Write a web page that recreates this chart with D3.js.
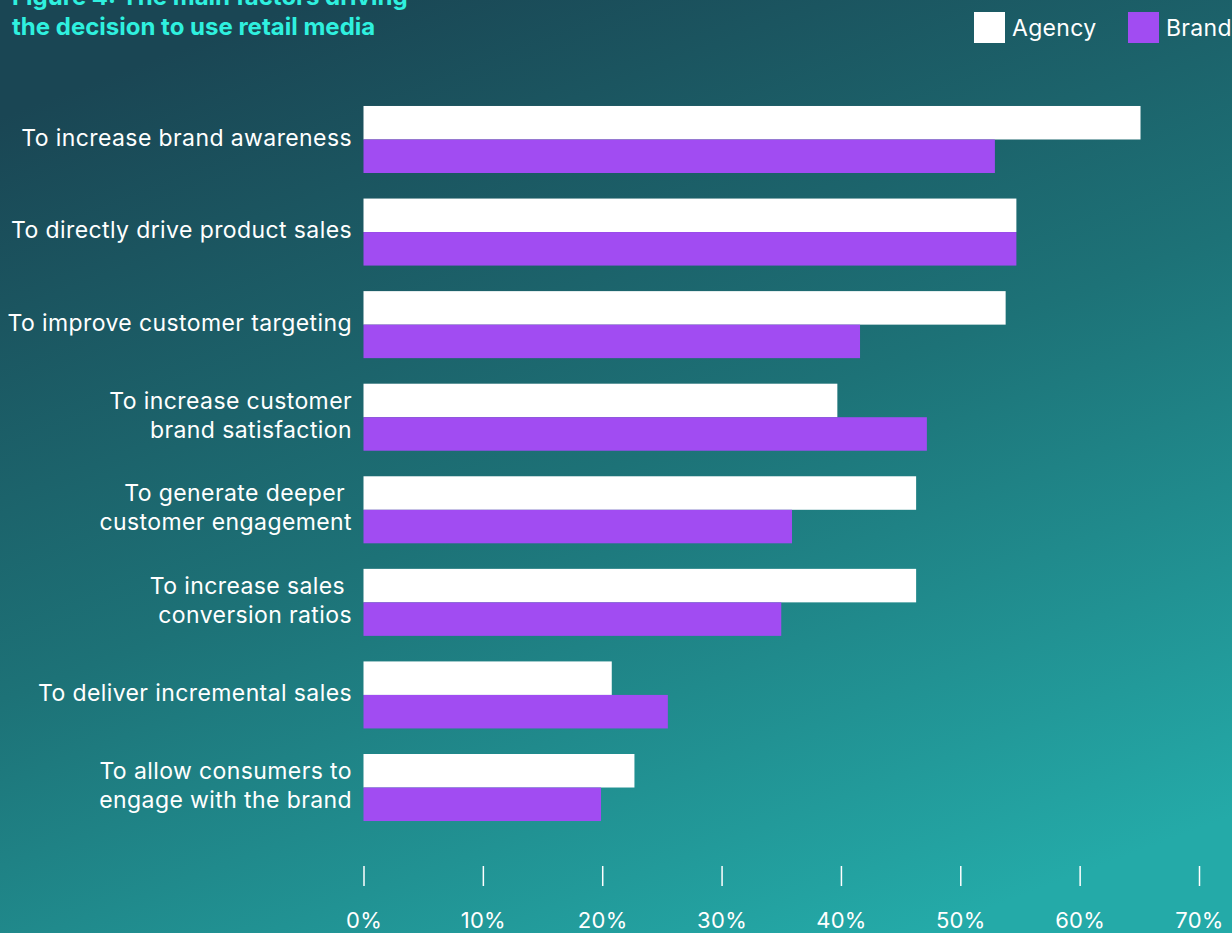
<!DOCTYPE html>
<html>
<head>
<meta charset="utf-8">
<script src="https://cdn.jsdelivr.net/npm/d3@7"></script>
<style>
  html, body { margin: 0; padding: 0; overflow: hidden; background: #1b4a58; }
  svg { display: block; font-family: Inter, "Noto Sans", sans-serif; }
  .cat-label { white-space: pre; }
</style>
</head>
<body>
<svg id="chart" width="1232" height="933"></svg>
<script>
// Survey answers: share of respondents choosing each factor
const categories = [
  ["To increase brand awareness"],
  ["To directly drive product sales"],
  ["To improve customer targeting"],
  ["To increase customer", "brand satisfaction"],
  ["To generate deeper ", "customer engagement"],
  ["To increase sales ", "conversion ratios"],
  ["To deliver incremental sales"],
  ["To allow consumers to", "engage with the brand"]
];
const seriesNames = ["Agency", "Brand"];
const agencyValues = [65.1, 54.7, 53.8, 39.7, 46.3, 46.3, 20.8, 22.7];
const brandValues  = [52.9, 54.7, 41.6, 47.2, 35.9, 35.0, 25.5, 19.9];
const tickValues = [0, 10, 20, 30, 40, 50, 60, 70];
const titleLines = ["Figure 4: The main factors driving", "the decision to use retail media"];

const W = 1232, H = 933;
const colors = { Agency: "#ffffff", Brand: "#a14cf2" };

const svg = d3.select("#chart");

// background gradient
const defs = svg.append("defs");
const grad = defs.append("linearGradient")
  .attr("id", "bg").attr("x1", "0.25").attr("y1", "0").attr("x2", "0.75").attr("y2", "1");
grad.append("stop").attr("offset", "0").attr("stop-color", "#1a4654");
grad.append("stop").attr("offset", "0.5").attr("stop-color", "#1d7277");
grad.append("stop").attr("offset", "1").attr("stop-color", "#24aaa8");
svg.append("rect").attr("width", W).attr("height", H).attr("fill", "url(#bg)");

const keys = categories.map((c, i) => i);
const rows = keys.map(i => ({ i, Agency: agencyValues[i], Brand: brandValues[i] }));

const x = d3.scaleLinear().domain([0, 70]).range([363.5, 1199]);
const y = d3.scaleBand().domain(keys).range([93.2, 833.8]).paddingInner(0.276).paddingOuter(0.138);
const ySub = d3.scaleBand().domain(seriesNames).range([0, y.bandwidth()]);

// bars
const groups = svg.append("g").selectAll("g").data(rows).join("g")
  .attr("transform", d => `translate(0,${y(d.i)})`);
groups.selectAll("rect")
  .data(d => seriesNames.map(k => ({ k, v: d[k] })))
  .join("rect")
  .attr("x", x(0))
  .attr("y", d => ySub(d.k))
  .attr("width", d => x(d.v) - x(0))
  .attr("height", ySub.bandwidth())
  .attr("fill", d => colors[d.k]);

// category labels
const lineH = 29;
svg.append("g").selectAll("text").data(categories).join("text")
  .attr("class", "cat-label")
  .attr("text-anchor", "end")
  .attr("fill", "#ffffff")
  .attr("font-size", 23)
  .attr("letter-spacing", 0.4)
  .each(function(lines, i) {
    const cy = y(i) + y.bandwidth() / 2 - 2;
    const t = d3.select(this);
    lines.forEach((ln, j) => {
      t.append("tspan")
        .attr("x", 352)
        .attr("y", cy + (j - (lines.length - 1) / 2) * lineH)
        .attr("dy", "0.35em")
        .text(ln);
    });
  });

// x axis: tick marks and labels, no domain line
const axis = svg.append("g")
  .attr("transform", "translate(0,866)")
  .call(d3.axisBottom(x).tickValues(tickValues).tickSize(20).tickPadding(26).tickFormat(d => d + "%"));
axis.select(".domain").remove();
axis.selectAll(".tick line").attr("stroke", "#ffffff").attr("stroke-width", 1.5);
axis.selectAll(".tick text")
  .attr("fill", "#ffffff")
  .attr("font-size", 22)
  .attr("letter-spacing", 0.3)
  .attr("font-family", "Inter, 'Noto Sans', sans-serif");

// title
svg.append("g").selectAll("text").data(titleLines).join("text")
  .attr("x", 12)
  .attr("y", (d, i) => 5 + i * 30)
  .attr("fill", "#2ff0df")
  .attr("font-size", 24)
  .attr("font-weight", 700)
  .text(d => d);

// legend
const legend = svg.append("g").selectAll("g").data(seriesNames).join("g")
  .attr("transform", (d, i) => `translate(${[974, 1128][i]},12)`);
legend.append("rect").attr("width", 31).attr("height", 31).attr("fill", d => colors[d]);
legend.append("text")
  .attr("x", 38).attr("y", 16).attr("dy", "0.35em")
  .attr("fill", "#ffffff").attr("font-size", 23).attr("letter-spacing", 0.3)
  .text(d => d);
</script>
</body>
</html>
